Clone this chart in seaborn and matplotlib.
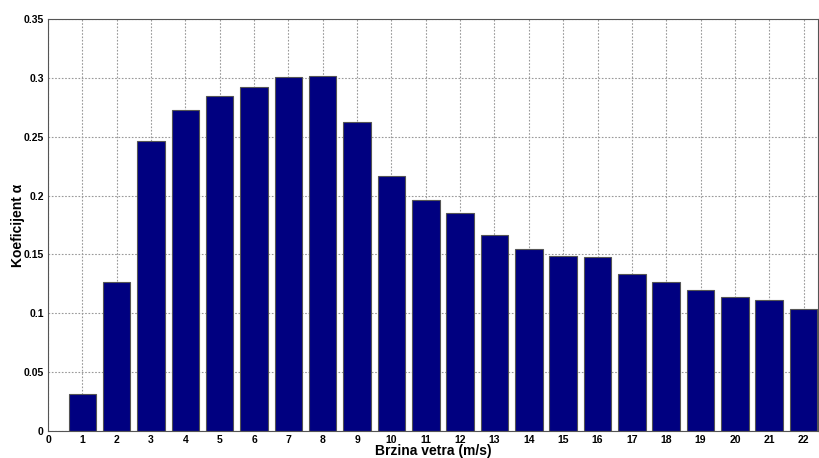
import matplotlib
matplotlib.use("Agg")
import matplotlib.pyplot as plt
import seaborn as sns
import pandas as pd

speeds = list(range(1, 23))
alpha = [0.0314, 0.127, 0.246, 0.2727, 0.2846, 0.292, 0.3007, 0.3016, 0.2625, 0.2166,
         0.196, 0.185, 0.1665, 0.1546, 0.1487, 0.1478, 0.1334, 0.1266, 0.1198, 0.1138,
         0.1113, 0.1036]
xticks = list(range(0, 23))
yticks = [0, 0.05, 0.1, 0.15, 0.2, 0.25, 0.3, 0.35]
ytick_labels = ["0", "0.05", "0.1", "0.15", "0.2", "0.25", "0.3", "0.35"]

sns.set_style("white")
plt.rcParams['font.family'] = ['Liberation Sans', 'DejaVu Sans']
plt.rcParams['text.color'] = 'black'
plt.rcParams['axes.labelcolor'] = 'black'
plt.rcParams['xtick.color'] = 'black'
plt.rcParams['ytick.color'] = 'black'

df = pd.DataFrame({"speed": speeds, "alpha": alpha})

fig = plt.figure(figsize=(8.19, 4.58), dpi=100)
ax = fig.add_axes([48/819, 1 - 431/458, (818-48)/819, (431-19)/458])
ax.set_axisbelow(True)
ax.grid(True, linestyle=(0, (1.5, 1.5)), color="#999999", linewidth=0.8)

sns.barplot(data=df, x="speed", y="alpha", native_scale=True, width=0.8,
            color="#000080", saturation=1, edgecolor="#555555", linewidth=0.8, ax=ax)

ax.set_xlim(0, 22.42)
ax.set_ylim(0, 0.35)
ax.set_xticks(xticks)
ax.set_xticklabels([str(t) for t in xticks], fontsize=7.5, fontweight="bold")
ax.set_yticks(yticks)
ax.set_yticklabels(ytick_labels, fontsize=7.5, fontweight="bold")
ax.tick_params(axis="both", length=3, direction="in", pad=3, colors="black")
for s in ax.spines.values():
    s.set_color("#555555")
    s.set_linewidth(0.8)
ax.set_xlabel("Brzina vetra (m/s)", fontsize=10, fontweight="bold", color="black")
ax.set_ylabel("Koeficijent α", fontsize=10, fontweight="bold", color="black")
ax.xaxis.set_label_coords((433 - 48) / 770, (431 - 444) / 412)
ax.yaxis.set_label_coords((25 - 48) / 770, 0.5)

fig.savefig("out.png", dpi=100)
